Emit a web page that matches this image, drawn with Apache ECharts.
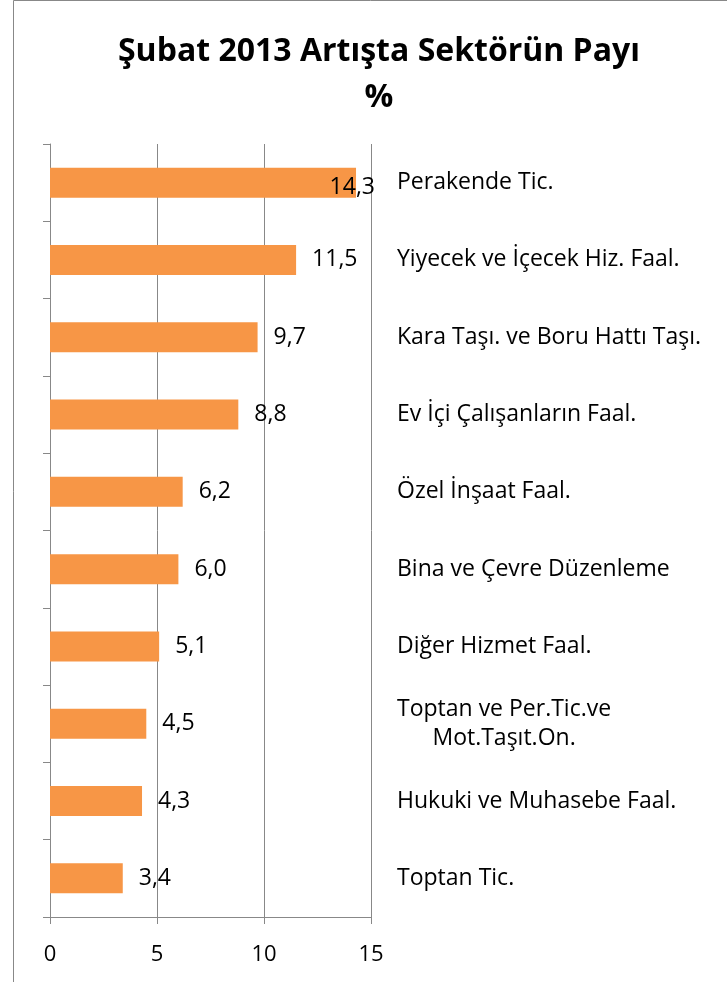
<!DOCTYPE html>
<html>
<head>
<meta charset="utf-8">
<script src="https://cdn.jsdelivr.net/npm/echarts@6/dist/echarts.min.js"></script>
<style>
html,body{margin:0;padding:0;background:#fff;}
#chart{width:727px;height:982px;}
</style>
</head>
<body>
<div id="chart"></div>
<script>
var categories = [
  'Perakende Tic.',
  'Yiyecek ve İçecek Hiz. Faal.',
  'Kara Taşı. ve Boru Hattı Taşı.',
  'Ev İçi Çalışanların Faal.',
  'Özel İnşaat Faal.',
  'Bina ve Çevre Düzenleme',
  'Diğer Hizmet Faal.',
  'Toptan ve Per.Tic.ve\nMot.Taşıt.On.',
  'Hukuki ve Muhasebe Faal.',
  'Toptan Tic.'
];
var values = [14.3, 11.5, 9.7, 8.8, 6.2, 6.0, 5.1, 4.5, 4.3, 3.4];
var xTicks = [0, 5, 10, 15];
var titleText = 'Şubat 2013 Artışta Sektörün Payı\n%';

var FONT = '"Open Sans", Lato, sans-serif';
var chart = echarts.init(document.getElementById('chart'), null, {renderer: 'canvas'});
var gridRight = 371;
chart.setOption({
  animation: false,
  backgroundColor: '#ffffff',
  title: {
    text: titleText,
    left: 374, top: 24, textAlign: 'center',
    textStyle: {fontFamily: FONT, fontWeight: 'bold', fontSize: 32, color: '#000', lineHeight: 46}
  },
  graphic: [{
    type: 'rect', silent: true,
    shape: {x: 13.5, y: 0.5, width: 800, height: 1100},
    style: {fill: 'none', stroke: '#888888', lineWidth: 1}
  }],
  grid: {left: 50, right: 727 - gridRight, top: 144, bottom: 65, containLabel: false},
  xAxis: {
    type: 'value', min: xTicks[0], max: xTicks[xTicks.length - 1], interval: 5,
    axisLine: {show: true, lineStyle: {color: '#888888', width: 1}},
    axisTick: {show: true, length: 7, lineStyle: {color: '#888888'}},
    splitLine: {show: true, lineStyle: {color: '#888888', width: 1}},
    axisLabel: {fontFamily: FONT, fontSize: 22, color: '#000', margin: 27}
  },
  yAxis: [{
    type: 'category', data: categories, inverse: true, position: 'left',
    axisLine: {show: true, lineStyle: {color: '#888888', width: 1}},
    axisTick: {show: true, length: 7, lineStyle: {color: '#888888'}},
    axisLabel: {show: false}
  }, {
    type: 'category', data: categories, inverse: true, position: 'right',
    axisLine: {show: false}, axisTick: {show: false},
    axisLabel: {
      show: true, margin: 26, align: 'left',
      fontFamily: FONT, fontSize: 23, color: '#000', lineHeight: 29,
      formatter: function (v) {
        if (v.indexOf('\n') >= 0) {
          return v.split('\n').map(function (s) { return '{c|' + s + '}'; }).join('\n');
        }
        return v;
      },
      rich: {c: {align: 'center', fontFamily: FONT, fontSize: 23, color: '#000', lineHeight: 29}}
    }
  }],
  series: [{
    type: 'bar', data: values, yAxisIndex: 0, barWidth: 30,
    itemStyle: {color: '#F79646'},
    label: {
      show: true, position: 'right', distance: 16, offset: [0, 3],
      fontFamily: FONT, fontSize: 23, color: '#000',
      formatter: function (p) { return p.value.toFixed(1).replace('.', ','); }
    }
  }],
  labelLayout: function (params) {
    var r = params.labelRect;
    var limit = gridRight + 4;
    if (r.x + r.width > limit) {
      return {x: limit - r.width, y: r.y + r.height / 2 + 2, align: 'left', verticalAlign: 'middle'};
    }
    return {};
  }
});
</script>
</body>
</html>
